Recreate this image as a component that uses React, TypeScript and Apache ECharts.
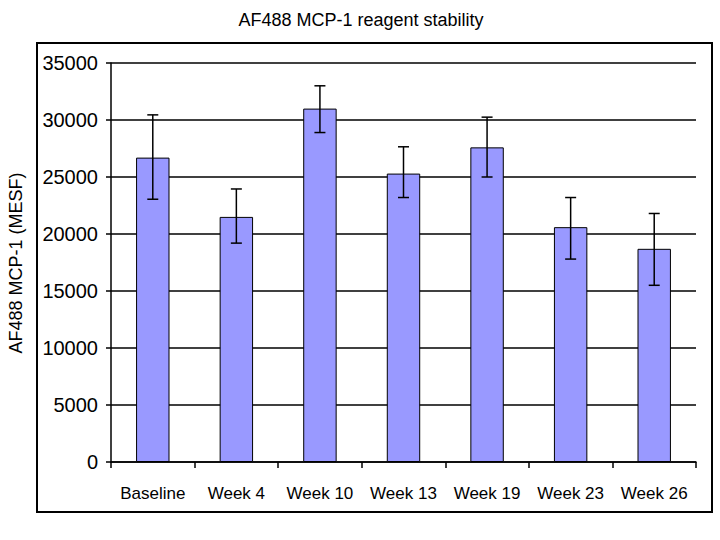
import React, { useEffect, useRef } from "react";
import * as echarts from "echarts";

const categories = ["Baseline", "Week 4", "Week 10", "Week 13", "Week 19", "Week 23", "Week 26"];
const means = [26700, 21500, 31000, 25300, 27600, 20600, 18700];
const errLow = [23050, 19200, 28900, 23200, 25000, 17800, 15500];
const errHigh = [30450, 23950, 33000, 27650, 30250, 23200, 21800];
const yTicks = [0, 5000, 10000, 15000, 20000, 25000, 30000, 35000];

const FONT = "'Liberation Sans', Arial, sans-serif";

export default function App() {
  const ref = useRef<HTMLDivElement>(null);
  useEffect(() => {
    const chart = echarts.init(ref.current!, null, { renderer: "svg" });
    const errData = categories.map((_, i) => [i, errLow[i], errHigh[i]]);
    chart.setOption({
      animation: false,
      backgroundColor: "#ffffff",
      textStyle: { fontFamily: FONT },
      title: {
        text: "AF488 MCP-1 reagent stability",
        left: 356,
        top: 6,
        textAlign: "center",
        textStyle: { fontSize: 18, fontWeight: "normal", color: "#000", fontFamily: FONT },
      },
      graphic: [
        {
          type: "rect",
          shape: { x: 37, y: 43, width: 675, height: 469 },
          style: { fill: "none", stroke: "#000", lineWidth: 2 },
          z: 100,
        },
        {
          type: "text",
          x: 16,
          y: 263,
          rotation: Math.PI / 2,
          style: {
            text: "AF488 MCP-1 (MESF)",
            fontSize: 18,
            fontFamily: FONT,
            fill: "#000",
            align: "center",
            verticalAlign: "middle",
          },
        },
      ],
      grid: { left: 111, right: 24, top: 63, bottom: 78 },
      xAxis: {
        type: "category",
        data: categories,
        axisLine: { show: true, lineStyle: { color: "#000", width: 1.5 } },
        axisTick: { show: true, inside: false, length: 6, alignWithLabel: false, lineStyle: { color: "#000", width: 1.5 } },
        axisLabel: { color: "#000", fontSize: 17, margin: 23, fontFamily: FONT, interval: 0 },
      },
      yAxis: {
        type: "value",
        min: 0,
        max: 35000,
        interval: 5000,
        axisLine: { show: true, lineStyle: { color: "#000", width: 1.5 } },
        axisTick: { show: true, length: 5, lineStyle: { color: "#000", width: 1.5 } },
        axisLabel: {
          color: "#000",
          fontSize: 20,
          margin: 13,
          fontFamily: FONT,
          customValues: yTicks,
          formatter: (v: number) => String(v),
        },
        splitLine: { show: true, lineStyle: { color: "#000", width: 1.5 } },
      },
      series: [
        {
          type: "bar",
          data: means,
          barWidth: "40%",
          itemStyle: { color: "#9999ff", borderColor: "#000", borderWidth: 1 },
          z: 2,
        },
        {
          type: "custom",
          data: errData,
          z: 3,
          renderItem: (params: any, api: any) => {
            const i = api.value(0);
            const lo = api.coord([i, api.value(1)]);
            const hi = api.coord([i, api.value(2)]);
            const hw = 5.5;
            const style = { stroke: "#000", lineWidth: 1.5 };
            return {
              type: "group",
              children: [
                { type: "line", shape: { x1: hi[0], y1: hi[1], x2: lo[0], y2: lo[1] }, style },
                { type: "line", shape: { x1: hi[0] - hw, y1: hi[1], x2: hi[0] + hw, y2: hi[1] }, style },
                { type: "line", shape: { x1: lo[0] - hw, y1: lo[1], x2: lo[0] + hw, y2: lo[1] }, style },
              ],
            };
          },
        },
      ],
    });
    return () => chart.dispose();
  }, []);
  return (
    <div
      ref={ref}
      style={{ position: "fixed", left: 0, top: 0, width: 720, height: 540 }}
    />
  );
}
